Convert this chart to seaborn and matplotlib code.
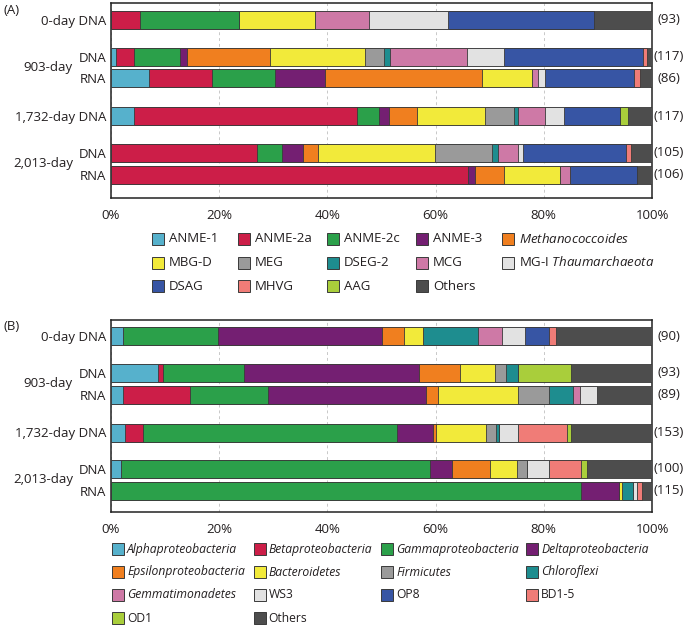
import matplotlib
matplotlib.use("Agg")
import matplotlib.pyplot as plt
import seaborn as sns
import pandas as pd
import numpy as np
from matplotlib.patches import Rectangle

# ---------------- data ----------------
archaea_taxa = ["ANME-1", "ANME-2a", "ANME-2c", "ANME-3", "Methanococcoides",
                "MBG-D", "MEG", "DSEG-2", "MCG", "MG-I Thaumarchaeota",
                "DSAG", "MHVG", "AAG", "Others"]
archaea_legend = ["ANME-1", "ANME-2a", "ANME-2c", "ANME-3", r"$\mathit{Methanococcoides}$",
                  "MBG-D", "MEG", "DSEG-2", "MCG", r"MG-I $\mathit{Thaumarchaeota}$",
                  "DSAG", "MHVG", "AAG", "Others"]
bacteria_taxa = ["Alphaproteobacteria", "Betaproteobacteria", "Gammaproteobacteria",
                 "Deltaproteobacteria", "Epsilonproteobacteria", "Bacteroidetes",
                 "Firmicutes", "Chloroflexi", "Gemmatimonadetes", "WS3", "OP8",
                 "BD1-5", "OD1", "Others"]
bacteria_italic = [True, True, True, True, True, True, True, True, True,
                   False, False, False, False, False]

sample_labels = ["0-day DNA", "DNA", "RNA", "1,732-day DNA", "DNA", "RNA"]
group_labels = ["903-day", "2,013-day"]
archaea_counts = ["(93)", "(117)", "(86)", "(117)", "(105)", "(106)"]
bacteria_counts = ["(90)", "(93)", "(89)", "(153)", "(100)", "(115)"]

# percentages, in taxon order
arc_0d_dna    = [0, 5.4, 18.3, 0, 0, 14.0, 0, 0, 9.9, 14.7, 27.0, 0, 0, 10.7]
arc_903d_dna  = [0.85, 3.45, 8.5, 1.2, 15.3, 17.7, 3.4, 1.1, 14.3, 6.8, 25.7, 0.7, 0, 1.0]
arc_903d_rna  = [7.0, 11.65, 11.65, 9.3, 29.0, 9.3, 0, 0, 1.1, 1.3, 16.3, 1.1, 0, 2.3]
arc_1732d_dna = [4.3, 41.1, 4.2, 1.8, 5.1, 12.6, 5.4, 0.8, 5.0, 3.4, 10.4, 0, 1.5, 4.4]
arc_2013d_dna = [0, 26.9, 4.7, 3.8, 2.8, 21.7, 10.6, 1.0, 3.8, 0.8, 19.1, 1.0, 0, 3.8]
arc_2013d_rna = [0, 66.0, 0, 1.2, 5.5, 10.3, 0, 0, 1.8, 0, 12.5, 0, 0, 2.7]

bac_0d_dna    = [2.3, 0, 17.5, 30.3, 4.1, 3.5, 0, 10.1, 4.5, 4.3, 4.4, 1.2, 0, 17.8]
bac_903d_dna  = [8.7, 1.0, 14.9, 32.4, 7.5, 6.5, 2.0, 2.2, 0, 0, 0, 0, 9.8, 15.0]
bac_903d_rna  = [2.2, 12.4, 14.4, 29.2, 2.3, 14.7, 5.7, 4.5, 1.2, 3.3, 0, 0, 0, 10.1]
bac_1732d_dna = [2.6, 3.4, 46.8, 6.8, 0.4, 9.3, 1.9, 0.5, 0, 3.5, 0, 9.0, 0.8, 15.0]
bac_2013d_dna = [1.9, 0, 57.1, 4.1, 6.9, 5.0, 1.9, 0, 0, 4.0, 0, 6.0, 1.0, 12.1]
bac_2013d_rna = [0, 0, 86.9, 7.0, 0, 0.6, 0, 2.0, 0, 0.8, 0, 0.9, 0, 1.8]

colors = ["#56B1CC", "#CC1E48", "#2BA04A", "#741F72", "#F07F1F", "#F2EA3A",
          "#9A9A9A", "#1E8D8F", "#CE79A6", "#E2E2E2", "#3755A4", "#F07C77",
          "#A9CE3B", "#4D4D4D"]

# ---------------- style ----------------
sns.set_theme(style="white")
plt.rcParams["font.family"] = ["Open Sans", "DejaVu Sans"]
plt.rcParams["mathtext.fontset"] = "custom"
plt.rcParams["mathtext.rm"] = "Open Sans"
plt.rcParams["mathtext.it"] = "Open Sans:italic"
TXT = "#231F20"
EDGE = "#3a3a3a"
FS = 9.5

W, H = 686, 627
fig = plt.figure(figsize=(W / 100, H / 100), dpi=100)

row_pos = [16.5, 53.5, 75.0, 113.0, 149.5, 171.5]   # layout (px from top of box)
bar_px = 18.0
x_left, x_right = 111, 652


def px_axes(top, bottom):
    return fig.add_axes([x_left / W, 1 - bottom / H, (x_right - x_left) / W, (bottom - top) / H])


def draw_panel(ax, rows, counts, ybottom):
    data = np.array(rows, dtype=float)
    cum = np.cumsum(data, axis=1)
    bw = bar_px / np.min(np.diff(row_pos))
    for i in range(data.shape[1] - 1, -1, -1):
        df = pd.DataFrame({"end": cum[:, i], "pos": row_pos})
        sns.barplot(data=df, x="end", y="pos", orient="y", native_scale=True,
                    color=colors[i], saturation=1, width=bw, edgecolor=EDGE,
                    linewidth=0.6, errorbar=None, ax=ax, zorder=3)
    ax.set_xlim(0, 100)
    ax.set_ylim(ybottom, 0)
    ax.set_xlabel("")
    ax.set_ylabel("")
    ax.set_xticks([0, 20, 40, 60, 80, 100])
    ax.set_xticklabels(["0%", "20%", "40%", "60%", "80%", "100%"])
    ax.set_yticks(row_pos)
    ax.set_yticklabels(sample_labels)
    ax.tick_params(axis="x", length=0, pad=8, labelsize=FS, labelcolor=TXT)
    ax.tick_params(axis="y", length=0, pad=3.5, labelsize=FS, labelcolor=TXT)
    ax.xaxis.grid(True, color="#c8c8c8", linestyle=(0, (3, 3)), linewidth=0.7)
    ax.yaxis.grid(False)
    ax.set_axisbelow(True)
    for s in ax.spines.values():
        s.set_color("#222222")
        s.set_linewidth(1.1)
        s.set_visible(True)
    ytr = ax.get_yaxis_transform()
    for lab, y in zip(group_labels, [(row_pos[1] + row_pos[2]) / 2, (row_pos[4] + row_pos[5]) / 2]):
        ax.text((73 - x_left) / (x_right - x_left), y, lab, transform=ytr, ha="right",
                va="center", fontsize=FS, color=TXT)
    for c, y in zip(counts, row_pos):
        ax.text((669 - x_left) / (x_right - x_left), y, c, transform=ytr, ha="center",
                va="center", fontsize=FS, color=TXT)


axA = px_axes(3, 198)
draw_panel(axA, [arc_0d_dna, arc_903d_dna, arc_903d_rna, arc_1732d_dna, arc_2013d_dna, arc_2013d_rna],
           archaea_counts, 195)
axB = px_axes(319.5, 512)
draw_panel(axB, [bac_0d_dna, bac_903d_dna, bac_903d_rna, bac_1732d_dna, bac_2013d_dna, bac_2013d_rna],
           bacteria_counts, 192.5)

fig.text(3 / W, 1 - 10 / H, "(A)", fontsize=FS, color=TXT, va="center", ha="left")
fig.text(3 / W, 1 - 326 / H, "(B)", fontsize=FS, color=TXT, va="center", ha="left")


def draw_legend(labels, italics, cols, rows_y, ncol, fs, gap):
    for k, lab in enumerate(labels):
        cx = cols[k % ncol]
        cy = rows_y[k // ncol]
        fig.patches.append(Rectangle((cx / W, 1 - (cy + 6) / H), 12 / W, 12 / H,
                                     transform=fig.transFigure, facecolor=colors[k],
                                     edgecolor=EDGE, linewidth=0.7))
        fig.text((cx + gap) / W, 1 - cy / H, lab, fontsize=fs, color=TXT, va="center",
                 ha="left", fontstyle="italic" if italics[k] else "normal")


draw_legend(archaea_legend, [False] * 14, [152, 238, 327, 416, 502], [239, 262.5, 286], 5, FS, 17)
draw_legend(bacteria_taxa, bacteria_italic, [112, 253.5, 381, 526], [549, 572, 595, 618], 4, 8.7, 15)

fig.savefig("out.png", dpi=100)
